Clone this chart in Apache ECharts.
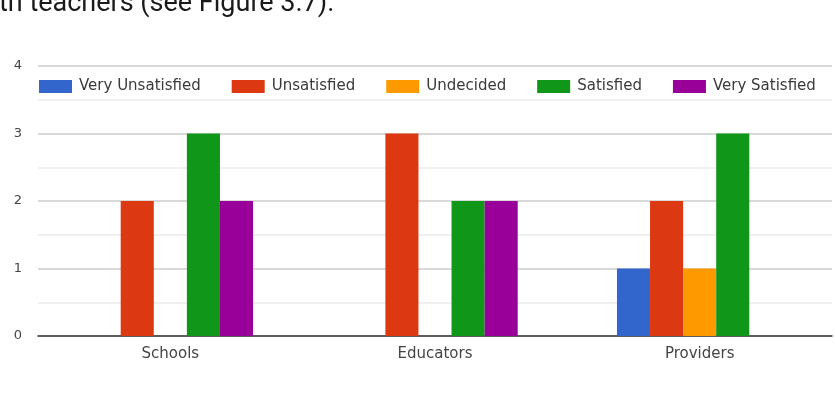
<!DOCTYPE html>
<html>
<head>
<meta charset="utf-8">
<script src="https://cdn.jsdelivr.net/npm/echarts@6/dist/echarts.min.js"></script>
<style>
  html, body { margin: 0; padding: 0; background: #fff; }
  #chart { width: 835px; height: 396px; }
</style>
</head>
<body>
<div id="chart"></div>
<script>
// Survey responses by respondent group
const categories = ['Schools', 'Educators', 'Providers'];
const seriesNames = ['Very Unsatisfied', 'Unsatisfied', 'Undecided', 'Satisfied', 'Very Satisfied'];
const veryUnsatisfied = [0, 0, 1];
const unsatisfied = [2, 3, 2];
const undecided = [0, 0, 1];
const satisfied = [3, 2, 3];
const verySatisfied = [2, 2, 0];
const yTicks = [0, 1, 2, 3, 4];
const captionText = 'th teachers (see Figure 3.7).';

const palette = ['#3366cc', '#dc3912', '#ff9900', '#109618', '#990099'];
const seriesValues = [veryUnsatisfied, unsatisfied, undecided, satisfied, verySatisfied];

const chart = echarts.init(document.getElementById('chart'), null, { renderer: 'canvas' });

chart.setOption({
  animation: false,
  backgroundColor: '#ffffff',
  color: palette,
  textStyle: { fontFamily: 'DejaVu Sans, Verdana, sans-serif' },
  graphic: [{
    type: 'text',
    left: -1,
    top: -9,
    style: {
      text: captionText,
      font: '400 27px Roboto, sans-serif',
      fill: '#1a1a1a'
    }
  }],
  legend: {
    left: 34,
    top: 74,
    itemWidth: 33,
    itemHeight: 13,
    itemGap: 31,
    icon: 'rect',
    selectedMode: false,
    textStyle: { fontSize: 15, color: '#3a3a3a', padding: [0, 0, 0, 2] },
    data: seriesNames
  },
  grid: { left: 38, right: 3, top: 66, bottom: 60, containLabel: false },
  xAxis: {
    type: 'category',
    data: categories,
    axisTick: { show: false },
    axisLine: { show: true, lineStyle: { color: '#333', width: 1.5 } },
    axisLabel: { color: '#444', fontSize: 15, margin: 11 }
  },
  yAxis: {
    type: 'value',
    min: yTicks[0],
    max: yTicks[yTicks.length - 1],
    interval: 1,
    axisLine: { show: false },
    axisTick: { show: false },
    axisLabel: { color: '#444', fontSize: 13, margin: 16, align: 'right' },
    splitLine: { lineStyle: { color: '#cccccc', width: 1.5 } },
    minorTick: { show: false, splitNumber: 2 },
    minorSplitLine: { show: true, lineStyle: { color: '#ebebeb', width: 1.5 } }
  },
  series: seriesNames.map((name, i) => ({
    name: name,
    type: 'bar',
    data: seriesValues[i],
    barGap: '0%',
    barCategoryGap: '37.5%',
    itemStyle: { color: palette[i] }
  }))
});
</script>
</body>
</html>
